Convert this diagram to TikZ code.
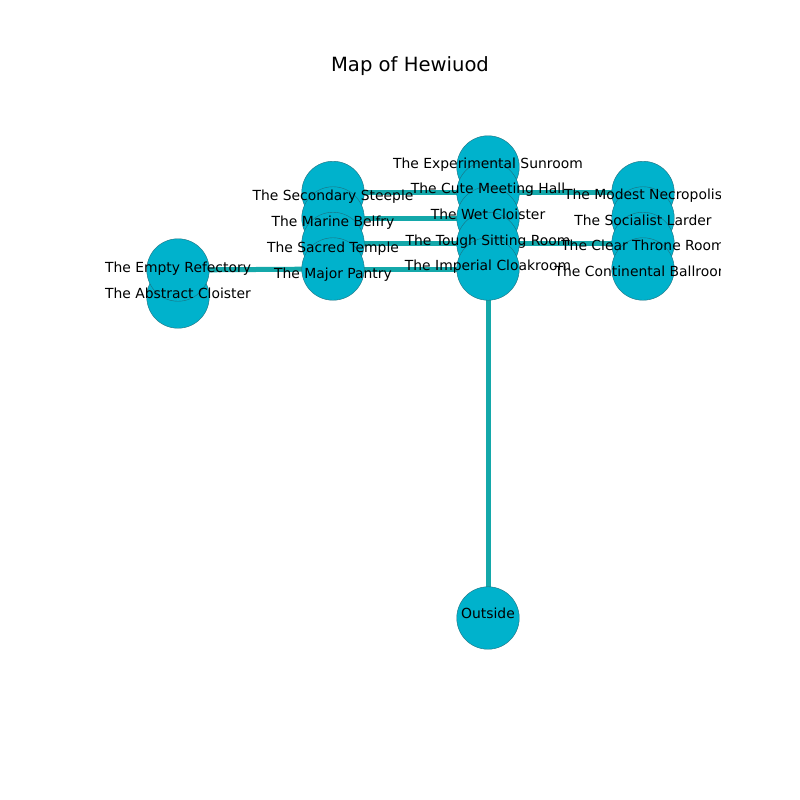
\documentclass[tikz,border=0pt]{standalone}
\usepackage{fontspec}
\setmainfont{DejaVu Sans}
\definecolor{nodefill}{RGB}{0,178,204}
\definecolor{nodeline}{RGB}{30,110,125}
\definecolor{edgecol}{RGB}{20,168,170}
\begin{document}
\begin{tikzpicture}[x=1pt,y=-1pt,
  room/.style={circle,draw=nodeline,line width=0.4pt,fill=nodefill,minimum size=62.5pt,inner sep=0pt},
  lbl/.style={anchor=base,inner sep=0pt,font=\fontsize{13.89}{15}\selectfont},
  edge/.style={draw=edgecol,line width=5pt}]
\useasboundingbox (0,0) rectangle (800,800);
% node centres
\coordinate (pExp) at (488,167);
\coordinate (pCute) at (488,192.5);
\coordinate (pWet) at (488,218);
\coordinate (pTough) at (488,243.5);
\coordinate (pImp) at (488,269);
\coordinate (pSec) at (333,192.5);
\coordinate (pMar) at (333,218);
\coordinate (pSac) at (333,243.5);
\coordinate (pMaj) at (333,269);
\coordinate (pMod) at (643,192.5);
\coordinate (pSoc) at (643,218);
\coordinate (pCle) at (643,243.5);
\coordinate (pCon) at (643,269);
\coordinate (pEmp) at (178,270);
\coordinate (pAbs) at (178,297);
\coordinate (pOut) at (488,618);
\begin{scope}
\clip (100,96) rectangle (720,712);
% edges
\draw[edge] (pSec) -- (pCute);
\draw[edge] (pCute) -- (pMod);
\draw[edge] (pMar) -- (pWet);
\draw[edge] (pSac) -- (pTough);
\draw[edge] (pTough) -- (pCle);
\draw[edge] (pMaj) -- (pImp);
\draw[edge] (pEmp) -- (pMaj);
\draw[edge] (pImp) -- (pOut);
% circles
\node[room] (Exp) at (pExp) {};
\node[room] (Cute) at (pCute) {};
\node[room] (Wet) at (pWet) {};
\node[room] (Tough) at (pTough) {};
\node[room] (Imp) at (pImp) {};
\node[room] (Sec) at (pSec) {};
\node[room] (Mar) at (pMar) {};
\node[room] (Sac) at (pSac) {};
\node[room] (Maj) at (pMaj) {};
\node[room] (Mod) at (pMod) {};
\node[room] (Soc) at (pSoc) {};
\node[room] (Cle) at (pCle) {};
\node[room] (Con) at (pCon) {};
\node[room] (Abs) at (pAbs) {};
\node[room] (Emp) at (pEmp) {};
\node[room] (Out) at (pOut) {};
% labels
\node[lbl] (tExp) at (488,168) {The Experimental Sunroom};
\node[lbl] (tCute) at (488,193.8) {The Cute Meeting Hall};
\node[lbl] (tWet) at (488,219) {The Wet Cloister};
\node[lbl] (tTough) at (488,245) {The Tough Sitting Room};
\node[lbl] (tImp) at (488,270) {The Imperial Cloakroom};
\node[lbl] (tSec) at (333,200.8) {The Secondary Steeple};
\node[lbl] (tMar) at (333,226) {The Marine Belfry};
\node[lbl] (tSac) at (333,252) {The Sacred Temple};
\node[lbl] (tMaj) at (333,278) {The Major Pantry};
\node[lbl] (tMod) at (643,199) {The Modest Necropolis};
\node[lbl] (tSoc) at (643,225) {The Socialist Larder};
\node[lbl] (tCle) at (643,250) {The Clear Throne Room};
\node[lbl] (tCon) at (643,276) {The Continental Ballroom};
\node[lbl] (tEmp) at (178,272) {The Empty Refectory};
\node[lbl] (tAbs) at (178,298) {The Abstract Cloister};
\node[lbl] (tOut) at (488,618.3) {Outside};
\end{scope}
\node[anchor=base,inner sep=0pt,font=\fontsize{19.6}{21}\selectfont] (title) at (410,71.5) {Map of Hewiuod};
\end{tikzpicture}
\end{document}
